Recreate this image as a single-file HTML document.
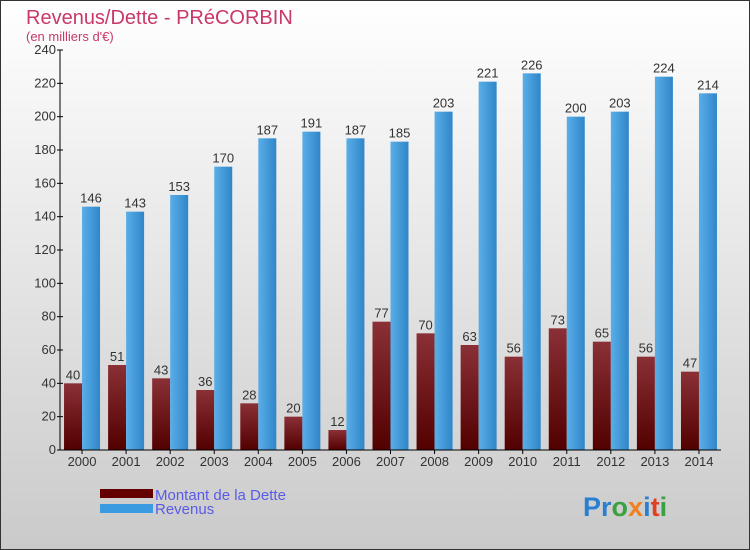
<!DOCTYPE html>
<html><head><meta charset="utf-8"><style>
body{margin:0}svg{display:block;font-family:"Liberation Sans",sans-serif}
</style></head><body>
<svg id="c" width="750" height="550" xmlns="http://www.w3.org/2000/svg">
<defs>
<linearGradient id="bg" x1="0" y1="0" x2="0" y2="1"><stop offset="0" stop-color="#ffffff"/><stop offset="1" stop-color="#cacaca"/></linearGradient>
<linearGradient id="gd" x1="0" y1="0" x2="0" y2="1"><stop offset="0" stop-color="#8a3036"/><stop offset="1" stop-color="#520000"/></linearGradient>
<linearGradient id="gr" x1="0" y1="0" x2="1" y2="0"><stop offset="0" stop-color="#5aaee8"/><stop offset="1" stop-color="#2f86c8"/></linearGradient>
</defs>
<rect x="0.5" y="0.5" width="749" height="549" fill="url(#bg)" stroke="#333"/>
<text x="26" y="24" font-size="20" fill="#c8386a">Revenus/Dette - PRéCORBIN</text>
<text x="26" y="41" font-size="13" fill="#c8386a">(en milliers d'€)</text>
<g id="plot"></g>
<g>
<rect x="100" y="489" width="53" height="9" fill="#640000"/>
<text x="155" y="500" font-size="15" fill="#5a5ae8">Montant de la Dette</text>
<rect x="100" y="504" width="53" height="9" fill="#3a9be0"/>
<text x="155" y="514" font-size="15" fill="#5a5ae8">Revenus</text>
</g>
<text x="583" y="516" font-size="27" font-weight="bold"><tspan fill="#2a7fd0">Pr</tspan><tspan fill="#3aa040">o</tspan><tspan fill="#f08020">x</tspan><tspan fill="#2a7fd0">i</tspan><tspan fill="#e04020">t</tspan><tspan fill="#3aa040">i</tspan></text>
</svg>
<script>
const years=["2000","2001","2002","2003","2004","2005","2006","2007","2008","2009","2010","2011","2012","2013","2014"];
const dette=[40,51,43,36,28,20,12,77,70,63,56,73,65,56,47];
const revenus=[146,143,153,170,187,191,187,185,203,221,226,200,203,224,214];
const yTicks=[0,20,40,60,80,100,120,140,160,180,200,220,240];
const NS="http://www.w3.org/2000/svg";
const g=document.getElementById('plot');
const x0=60,x1=721,y0=450,y1=50,ymax=240;
const step=(x1-x0)/years.length;
const Y=v=>y0-(v/ymax)*(y0-y1);
const X=i=>x0+step*(i+0.5);
function mk(t,a,txt){const e=document.createElementNS(NS,t);for(const k in a)e.setAttribute(k,a[k]);if(txt!==undefined)e.textContent=txt;g.appendChild(e);return e;}
years.forEach((yr,i)=>{
const c=X(i);
let e=mk('rect',{x:c-18,y:Y(dette[i]),width:18,height:y0-Y(dette[i]),fill:'url(#gd)'});


e=mk('rect',{x:c,y:Y(revenus[i]),width:18,height:y0-Y(revenus[i]),fill:'url(#gr)'});


e=mk('text',{x:c-9,y:Y(dette[i])-4,'font-size':13,fill:'#333','text-anchor':'middle'},dette[i]);


e=mk('text',{x:c+9,y:Y(revenus[i])-4,'font-size':13,fill:'#333','text-anchor':'middle'},revenus[i]);


e=mk('line',{x1:c,x2:c,y1:y0,y2:y0+4,stroke:'#000'});


e=mk('text',{x:c,y:y0+16,'font-size':13,fill:'#333','text-anchor':'middle'},yr);


});
yTicks.forEach(v=>{
let e=mk('line',{x1:x0-3,x2:x0+3,y1:Y(v),y2:Y(v),stroke:'#000'});


e=mk('text',{x:x0-4,y:Y(v)+4,'font-size':13,fill:'#333','text-anchor':'end'},v);


});
let ax=mk('line',{x1:x0,x2:x0,y1:y1,y2:y0,stroke:'#000'});


ax=mk('line',{x1:x0,x2:x1,y1:y0,y2:y0,stroke:'#000'});


</script>
</body></html>
